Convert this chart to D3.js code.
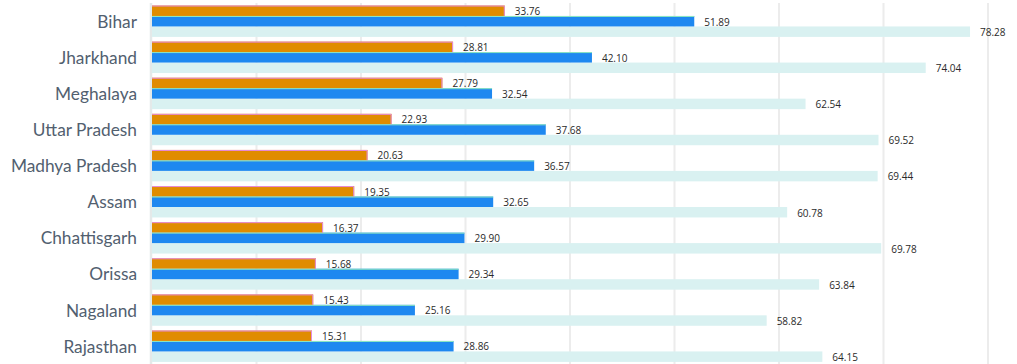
<!DOCTYPE html>
<html>
<head>
<meta charset="utf-8">
<script src="https://cdn.jsdelivr.net/npm/d3@7"></script>
<style>
  html, body { margin: 0; padding: 0; background: #ffffff; }
  svg { display: block; }
</style>
</head>
<body>
<svg id="chart" width="1017" height="364"></svg>
<script>
const categories = ["Bihar", "Jharkhand", "Meghalaya", "Uttar Pradesh", "Madhya Pradesh", "Assam", "Chhattisgarh", "Orissa", "Nagaland", "Rajasthan"];
const seriesA = [33.76, 28.81, 27.79, 22.93, 20.63, 19.35, 16.37, 15.68, 15.43, 15.31];
const seriesB = [51.89, 42.10, 32.54, 37.68, 36.57, 32.65, 29.90, 29.34, 25.16, 28.86];
const seriesC = [78.28, 74.04, 62.54, 69.52, 69.44, 60.78, 69.78, 63.84, 58.82, 64.15];
const seriesNames = ["A", "B", "C"];
const gridTicks = [10, 20, 30, 40, 50, 60, 70, 80];

const colors = { A: "#e08c00", B: "#1e88f0", C: "#d9f1f1" };

const svg = d3.select("#chart");
const x = d3.scaleLinear().domain([0, 80]).range([152, 988]);
const y = d3.scaleBand().domain(categories).range([5.5, 361.9]).paddingInner(0.13).paddingOuter(0);
const ySub = d3.scaleBand().domain(seriesNames).range([0, y.bandwidth()]).padding(0);

// gridlines
svg.append("g").selectAll("line").data(gridTicks).join("line")
  .attr("x1", d => x(d)).attr("x2", d => x(d))
  .attr("y1", 3).attr("y2", 364)
  .attr("stroke", "#ececec").attr("stroke-width", 2);

// zero axis
svg.append("line")
  .attr("x1", x(0) - 1).attr("x2", x(0) - 1)
  .attr("y1", 3).attr("y2", 364)
  .attr("stroke", "#e4e9e9").attr("stroke-width", 2.5);

const data = categories.map((c, i) => ({ cat: c, A: seriesA[i], B: seriesB[i], C: seriesC[i] }));

const groups = svg.append("g").selectAll("g").data(data).join("g")
  .attr("transform", d => `translate(0,${y(d.cat)})`);

["C", "B", "A"].forEach(s => {
  groups.append("rect")
    .attr("x", x(0))
    .attr("y", ySub(s))
    .attr("width", d => x(d[s]) - x(0))
    .attr("height", ySub.bandwidth())
    .attr("fill", colors[s]);
});

// thin edge accents
groups.append("path")
  .attr("d", d => `M${x(0)},${ySub("B") + 0.5}H${x(d.B)}`)
  .attr("stroke", "#8fe8c0").attr("stroke-width", 1).attr("fill", "none");
groups.append("path")
  .attr("d", d => `M${x(0)},${ySub("A") + 0.5}H${x(d.A) - 0.5}V${ySub("A") + ySub.bandwidth()}`)
  .attr("stroke", "#e68ae0").attr("stroke-width", 1).attr("fill", "none");

// value labels
seriesNames.forEach(s => {
  groups.append("text")
    .attr("x", d => x(d[s]) + 10)
    .attr("y", ySub(s) + ySub.bandwidth() / 2 + 4.3)
    .attr("font-family", "'Open Sans', sans-serif")
    .attr("font-size", "10px")
    .attr("fill", "#2a2a2a")
    .text(d => d[s].toFixed(2));
});

// category labels
svg.append("g").selectAll("text").data(categories).join("text")
  .attr("x", 137)
  .attr("y", d => y(d) + y.bandwidth() / 2 + 6.5)
  .attr("text-anchor", "end")
  .attr("font-family", "Lato, sans-serif")
  .attr("font-size", "17.3px")
  .attr("fill", "#52606f")
  .text(d => d);
</script>
</body>
</html>
